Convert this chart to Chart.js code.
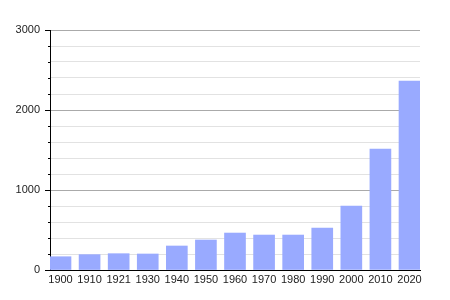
<!DOCTYPE html>
<html>
<head>
<meta charset="utf-8">
<script src="https://cdn.jsdelivr.net/npm/chart.js@4.4.0/dist/chart.umd.min.js"></script>
<style>
  html, body { margin: 0; padding: 0; background: #fff; }
  #wrap { width: 450px; height: 300px; }
</style>
</head>
<body>
<div id="wrap"><canvas id="myChart"></canvas></div>
<script>
const years = ['1900','1910','1921','1930','1940','1950','1960','1970','1980','1990','2000','2010','2020'];
const population = [166, 192, 204, 200, 300, 375, 462, 437, 437, 525, 800, 1512, 2362];
const yTicks = [0, 1000, 2000, 3000];
const yGrid = [0,200,400,600,800,1000,1200,1400,1600,1800,2000,2200,2400,2600,2800,3000];

// short minor tick marks on the left axis
const minorTicks = {
  id: 'minorTicks',
  afterDraw(chart) {
    const y = chart.scales.y, ctx = chart.ctx;
    ctx.save();
    ctx.strokeStyle = '#000';
    ctx.lineWidth = 1;
    y.ticks.forEach(t => {
      if (t.value % 1000 === 0) return;
      const py = Math.round(y.getPixelForValue(t.value)) + 0.5;
      ctx.beginPath();
      ctx.moveTo(y.right - 2, py);
      ctx.lineTo(y.right, py);
      ctx.stroke();
    });
    ctx.restore();
  }
};

const ctx = document.getElementById('myChart');

new Chart(ctx, {
  type: 'bar',
  data: {
    datasets: [{
      data: population.map((v, i) => ({x: i, y: v})),
      backgroundColor: '#99aaff',
      borderWidth: 0,
      barThickness: 21
    }]
  },
  options: {
    responsive: true,
    maintainAspectRatio: false,
    animation: false,
    layout: { padding: { top: 30, right: 30, left: 0, bottom: 0 } },
    plugins: { legend: { display: false }, tooltip: { enabled: false } },
    scales: {
      x: {
        type: 'linear',
        offset: false,
        min: -0.361,
        max: 12.361,
        afterBuildTicks: s => { s.ticks = years.map((_, i) => ({ value: i })); },
        afterFit: s => { s.height = 30; },
        grid: { display: false, drawTicks: false },
        border: { display: true, color: '#000', width: 1 },
        ticks: {
          autoSkip: false,
          maxRotation: 0,
          padding: 3,
          color: '#222',
          font: { family: 'Liberation Sans', size: 11 },
          callback: v => years[v]
        }
      },
      y: {
        min: 0,
        max: 3000,
        afterBuildTicks: s => { s.ticks = yGrid.map(v => ({ value: v })); },
        afterFit: s => { s.width = 50; },
        ticks: {
          autoSkip: false,
          padding: 5,
          color: '#222',
          font: { family: 'Liberation Sans', size: 11 },
          callback: v => yTicks.includes(v) ? v : ''
        },
        grid: {
          color: c => c.tick && c.tick.value % 1000 === 0 ? '#aaaaaa' : '#e2e2e2',
          tickColor: c => c.tick && c.tick.value % 1000 === 0 ? '#000' : 'rgba(0,0,0,0)',
          tickLength: 5
        },
        border: { display: true, color: '#000', width: 1 }
      }
    }
  },
  plugins: [minorTicks]
});
</script>
</body>
</html>
